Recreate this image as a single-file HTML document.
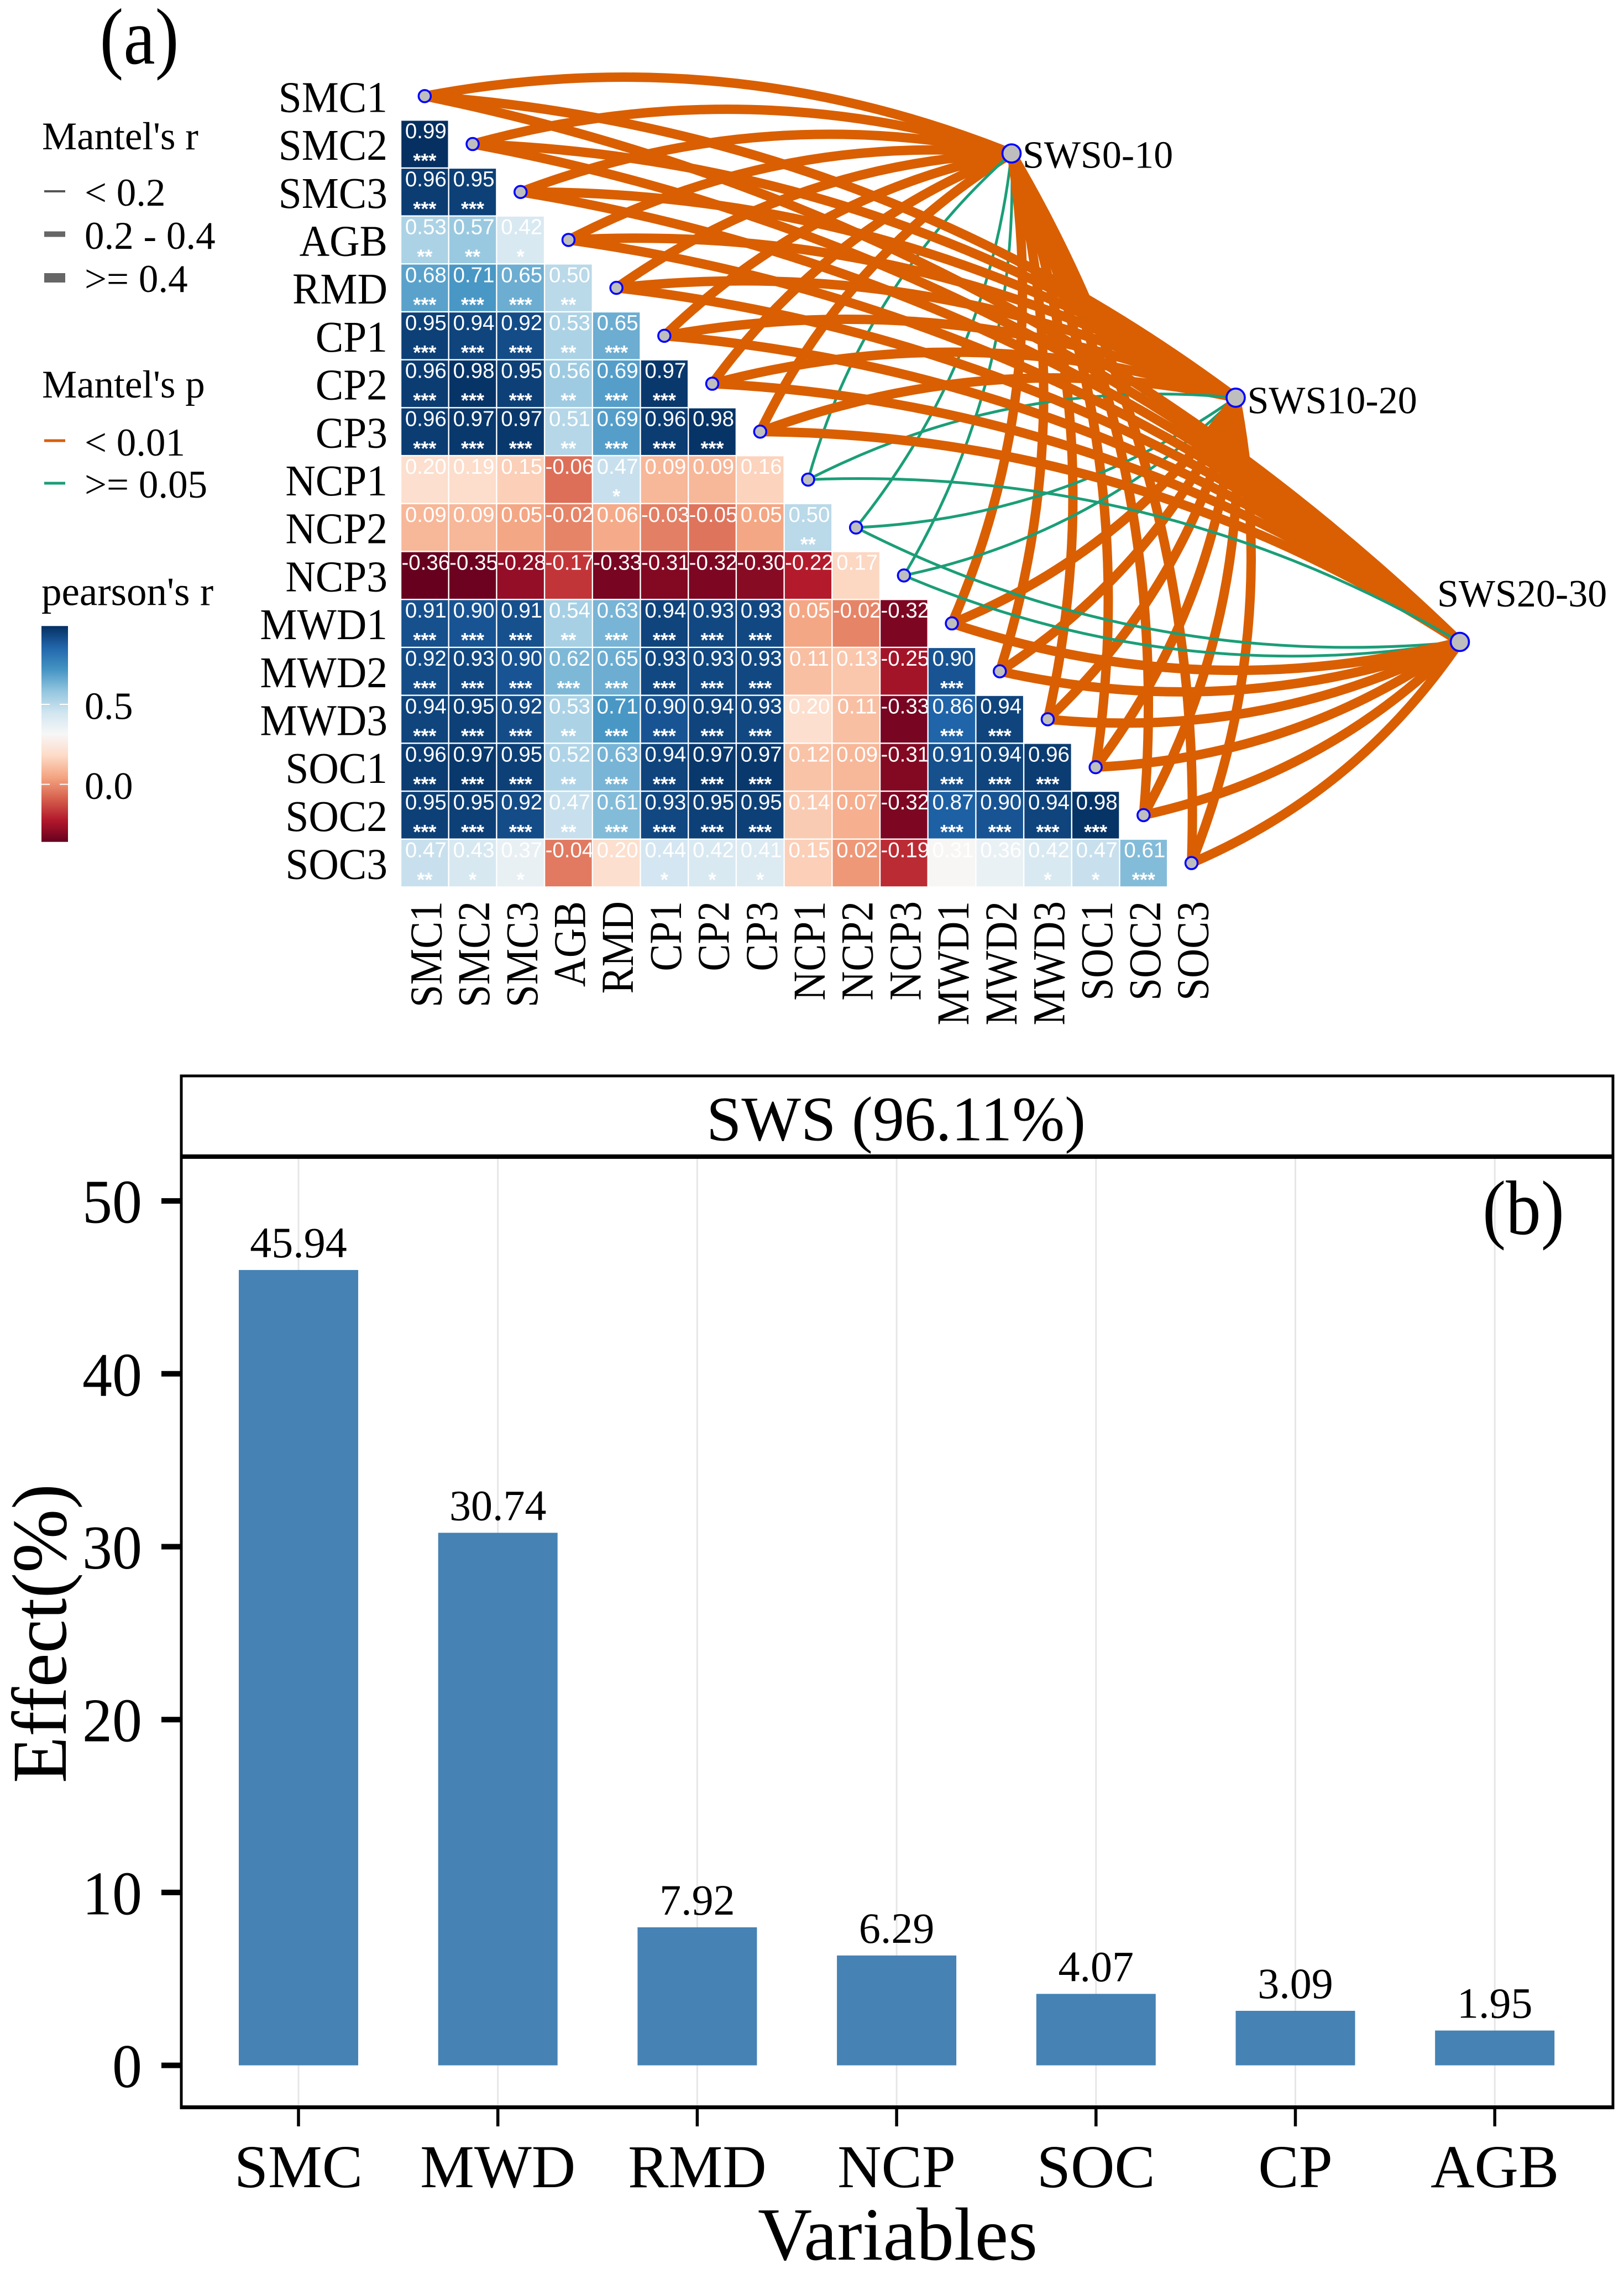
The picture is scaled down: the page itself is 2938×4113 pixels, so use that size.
<!DOCTYPE html>
<html lang="en">
<head>
<meta charset="utf-8">
<title>Mantel correlation and variable effect on SWS</title>
<style>
html,body{margin:0;padding:0;background:#fff;}
svg{display:block;}
text{font-family:"Liberation Serif",serif;fill:#000;}
.sans{font-family:"Liberation Sans",sans-serif;fill:#fff;}
</style>
</head>
<body>
<svg id="fig" xmlns="http://www.w3.org/2000/svg" width="2938" height="4113" viewBox="0 0 2938 4113">
  <rect x="0" y="0" width="2938" height="4113" fill="#ffffff"/>
  <defs><linearGradient id="cbGrad" x1="0" y1="1" x2="0" y2="0"></linearGradient></defs>

  <text transform="translate(252,115) scale(1,1.12)" font-size="129" text-anchor="middle">(a)</text>

  <g id="heatLayer"></g>
  <g id="edgeLayer"></g>
  <g id="nodeLayer"></g>

  <g>
    <text x="76" y="270" font-size="71">Mantel's r</text>
    <rect x="80" y="344" width="38" height="4" fill="#555"/>
    <text x="153" y="372" font-size="71">&lt; 0.2</text>
    <rect x="80" y="418.5" width="38" height="10" fill="#666"/>
    <text x="153" y="450" font-size="71">0.2 - 0.4</text>
    <rect x="80" y="494" width="38" height="17" fill="#666"/>
    <text x="153" y="528" font-size="71">&gt;= 0.4</text>
  </g>
  <g>
    <text x="76" y="719" font-size="71">Mantel's p</text>
    <rect x="80" y="794.5" width="38" height="5" fill="#d95f02"/>
    <text x="153" y="824" font-size="71">&lt; 0.01</text>
    <rect x="80" y="871.5" width="38" height="5" fill="#1b9e77"/>
    <text x="153" y="900" font-size="71">&gt;= 0.05</text>
  </g>
  <g id="cbLayer">
    <text x="75" y="1094.5" font-size="73">pearson's r</text>
  </g>

  <g id="barLayer"></g>

  <g>
    <line x1="325.5" y1="1946" x2="2920.5" y2="1946" stroke="#000" stroke-width="5"/>
    <line x1="325.5" y1="2092" x2="2920.5" y2="2092" stroke="#000" stroke-width="8"/>
    <line x1="328" y1="1946" x2="328" y2="3815" stroke="#000" stroke-width="5"/>
    <line x1="2918" y1="1946" x2="2918" y2="3815" stroke="#000" stroke-width="5"/>
    <line x1="325.5" y1="3811.5" x2="2920.5" y2="3811.5" stroke="#000" stroke-width="7"/>
  </g>
  <text x="1621" y="2062.5" font-size="114" text-anchor="middle">SWS (96.11%)</text>
  <text transform="translate(2756,2232) scale(1,1.1)" font-size="127" text-anchor="middle">(b)</text>
  <text transform="translate(119,2954.5) rotate(-90) scale(1,1.02)" font-size="138" text-anchor="middle">Effect(%)</text>
  <text x="1624" y="4087" font-size="136" text-anchor="middle">Variables</text>
</svg>

<script>
// ---------- Panel (a) data ----------
const variableLabels = ["SMC1","SMC2","SMC3","AGB","RMD","CP1","CP2","CP3","NCP1","NCP2","NCP3","MWD1","MWD2","MWD3","SOC1","SOC2","SOC3"];
const correlationRows = [
  [],
  [0.99],
  [0.96,0.95],
  [0.53,0.57,0.42],
  [0.68,0.71,0.65,0.50],
  [0.95,0.94,0.92,0.53,0.65],
  [0.96,0.98,0.95,0.56,0.69,0.97],
  [0.96,0.97,0.97,0.51,0.69,0.96,0.98],
  [0.20,0.19,0.15,-0.06,0.47,0.09,0.09,0.16],
  [0.09,0.09,0.05,-0.02,0.06,-0.03,-0.05,0.05,0.50],
  [-0.36,-0.35,-0.28,-0.17,-0.33,-0.31,-0.32,-0.30,-0.22,0.17],
  [0.91,0.90,0.91,0.54,0.63,0.94,0.93,0.93,0.05,-0.02,-0.32],
  [0.92,0.93,0.90,0.62,0.65,0.93,0.93,0.93,0.11,0.13,-0.25,0.90],
  [0.94,0.95,0.92,0.53,0.71,0.90,0.94,0.93,0.20,0.11,-0.33,0.86,0.94],
  [0.96,0.97,0.95,0.52,0.63,0.94,0.97,0.97,0.12,0.09,-0.31,0.91,0.94,0.96],
  [0.95,0.95,0.92,0.47,0.61,0.93,0.95,0.95,0.14,0.07,-0.32,0.87,0.90,0.94,0.98],
  [0.47,0.43,0.37,-0.04,0.20,0.44,0.42,0.41,0.15,0.02,-0.19,0.31,0.36,0.42,0.47,0.61]
];
const significanceRows = [
  [],
  [3],
  [3,3],
  [2,2,1],
  [3,3,3,2],
  [3,3,3,2,3],
  [3,3,3,2,3,3],
  [3,3,3,2,3,3,3],
  [0,0,0,0,1,0,0,0],
  [0,0,0,0,0,0,0,0,2],
  [0,0,0,0,0,0,0,0,0,0],
  [3,3,3,2,3,3,3,3,0,0,0],
  [3,3,3,3,3,3,3,3,0,0,0,3],
  [3,3,3,2,3,3,3,3,0,0,0,3,3],
  [3,3,3,2,3,3,3,3,0,0,0,3,3,3],
  [3,3,3,2,3,3,3,3,0,0,0,3,3,3,3],
  [2,1,1,0,0,1,1,1,0,0,0,0,0,1,1,3]
];
const targetLabels = ["SWS0-10","SWS10-20","SWS20-30"];
// Mantel p class per variable: 0 = "< 0.01", 1 = ">= 0.05"
const mantelPSws0to10  = [0,0,0,0,0,0,0,0,1,1,1,0,0,0,0,0,0];
const mantelPSws10to20 = [0,0,0,0,0,0,0,0,1,1,1,0,0,0,0,0,0];
const mantelPSws20to30 = [0,0,0,0,0,0,0,0,1,1,1,0,0,0,0,0,0];
// Mantel r class per variable: 0 = "< 0.2", 1 = "0.2 - 0.4", 2 = ">= 0.4"
const mantelRSws0to10  = [2,2,2,2,2,2,2,2,0,0,0,2,2,2,2,2,2];
const mantelRSws10to20 = [2,2,2,2,2,2,2,2,0,0,0,2,2,2,2,2,2];
const mantelRSws20to30 = [2,2,2,2,2,2,2,2,0,0,0,2,2,2,2,2,2];
const rdbuPalette = ["#67001f","#b2182b","#d6604d","#f4a582","#fddbc7","#f7f7f7","#d1e5f0","#92c5de","#4393c3","#2166ac","#053061"];
const colorDomain = [-0.36,0.99];
const colorbarTicks = [0,0.5];

// ---------- Panel (b) data ----------
const barCategories = ["SMC","MWD","RMD","NCP","SOC","CP","AGB"];
const barValues = [45.94,30.74,7.92,6.29,4.07,3.09,1.95];
const yTickValues = [0,10,20,30,40,50];

// ---------- Helpers ----------
const NS = "http://www.w3.org/2000/svg";
function mk(tag, parent, attrs){
  const e = document.createElementNS(NS, tag);
  for (const k in attrs) e.setAttribute(k, attrs[k]);
  parent.appendChild(e);
  return e;
}
function hexToRgb(h){return [parseInt(h.slice(1,3),16),parseInt(h.slice(3,5),16),parseInt(h.slice(5,7),16)];}
function heatColor(v){
  const t = Math.max(0,Math.min(1,(v-colorDomain[0])/(colorDomain[1]-colorDomain[0])))*(rdbuPalette.length-1);
  const i = Math.min(Math.floor(t),rdbuPalette.length-2), f = t-i;
  const a = hexToRgb(rdbuPalette[i]), b = hexToRgb(rdbuPalette[i+1]);
  return "rgb("+a.map((c,k)=>Math.round(c+(b[k]-c)*f)).join(",")+")";
}

// ---------- Scales ----------
const CELL = 86.7;
const gridX = i => 725 + CELL*i;
const gridY = i => 130.5 + CELL*i;
const nodeX = i => gridX(i) + CELL/2;
const nodeY = i => gridY(i) + CELL/2;
const targetX = i => 1830 + 405.5*i;
const targetY = i => 277.5 + 441.8*i;
const colorbarY = v => 1418.6 - 289.2*v;
const catX = i => 540 + 360.7*i;
const effY = v => 3735.6 - 31.27*v;

// ---------- Heatmap ----------
const heat = document.getElementById("heatLayer");
correlationRows.forEach((row, r) => {
  row.forEach((v, c) => {
    const cell = mk("rect", heat, {x:gridX(c)+1.2, y:gridY(r)+1.2, width:CELL-2.4, height:CELL-2.4, fill:heatColor(v)});
    
    
    const t = mk("text", heat, {class:"sans", x:gridX(c)+CELL/2+2, y:gridY(r)+33, "font-size":38.5, "text-anchor":"middle"});
    t.textContent = v.toFixed(2);
    
    
    const n = significanceRows[r][c];
    if (n > 0) {
      const s = mk("text", heat, {class:"sans", x:gridX(c)+CELL/2, y:gridY(r)+86, "font-size":36, "font-weight":"bold", "text-anchor":"middle"});
      s.textContent = "*".repeat(n);
      
      
    }
  });
});
variableLabels.forEach((lab, i) => {
  const yl = mk("text", heat, {transform:"translate(701,"+(nodeY(i)+28.5)+") scale(1,1.05)", "font-size":75.5, "text-anchor":"end"});
  yl.textContent = lab;
  
  
  const xl = mk("text", heat, {transform:"translate("+(nodeX(i)+30)+",1630) rotate(-90) scale(1,1.13)", "font-size":73.5, "text-anchor":"end"});
  xl.textContent = lab;
  
  
});

// ---------- Mantel links ----------
const edgeLayer = document.getElementById("edgeLayer");
const pColors = ["#d95f02","#1b9e77"];
const rWidths = [5,9,17];
const mantelPByTarget = [mantelPSws0to10, mantelPSws10to20, mantelPSws20to30];
const mantelRByTarget = [mantelRSws0to10, mantelRSws10to20, mantelRSws20to30];
const CURVE = 0.146;
targetLabels.forEach((name, t) => {
  variableLabels.forEach((lab, r) => {
    const x0 = nodeX(r), y0 = nodeY(r), x1 = targetX(t), y1 = targetY(t);
    const dx = x1-x0, dy = y1-y0;
    const sign = r <= 8 ? 1 : -1;
    const cx = (x0+x1)/2 + sign*CURVE*dy;
    const cy = (y0+y1)/2 - sign*CURVE*dx;
    const edge = mk("path", edgeLayer, {
      d:"M"+x0+" "+y0+" Q"+cx+" "+cy+" "+x1+" "+y1,
      fill:"none",
      stroke:pColors[mantelPByTarget[t][r]],
      "stroke-width":rWidths[mantelRByTarget[t][r]]
    });
    
    
  });
});

// ---------- Nodes ----------
const nodeLayer = document.getElementById("nodeLayer");
variableLabels.forEach((lab, i) => {
  const c = mk("circle", nodeLayer, {cx:nodeX(i), cy:nodeY(i), r:11, fill:"#bebebe", stroke:"#0000ff", "stroke-width":3.5});
  
  
});
const targetLabelDx = [20, 21, -41];
const targetLabelDy = [26, 28, -64];
targetLabels.forEach((name, t) => {
  const c = mk("circle", nodeLayer, {cx:targetX(t), cy:targetY(t), r:16.5, fill:"#bebebe", stroke:"#0000ff", "stroke-width":3.6});
  
  
  const l = mk("text", nodeLayer, {x:targetX(t)+targetLabelDx[t], y:targetY(t)+targetLabelDy[t], "font-size":70});
  l.textContent = name;
  
  
});

// ---------- Colorbar ----------
const grad = document.getElementById("cbGrad");
rdbuPalette.forEach((col, i) => {
  mk("stop", grad, {offset:(i/(rdbuPalette.length-1)), "stop-color":col});
});
const cbLayer = document.getElementById("cbLayer");
const cbTop = colorbarY(colorDomain[1]), cbBottom = colorbarY(colorDomain[0]);
const cbRect = mk("rect", cbLayer, {x:75, y:cbTop, width:48, height:cbBottom-cbTop, fill:"url(#cbGrad)"});


colorbarTicks.forEach(v => {
  const y = colorbarY(v);
  const a = mk("line", cbLayer, {x1:75, x2:90, y1:y, y2:y, stroke:"#fff", "stroke-width":2});
  
  
  const b = mk("line", cbLayer, {x1:108, x2:123, y1:y, y2:y, stroke:"#fff", "stroke-width":2});
  
  
  const l = mk("text", cbLayer, {x:153, y:y+26.5, "font-size":70});
  l.textContent = v.toFixed(1);
  
  
});

// ---------- Bar chart ----------
const barLayer = document.getElementById("barLayer");
barCategories.forEach((cat, i) => {
  const g = mk("line", barLayer, {x1:catX(i), x2:catX(i), y1:2096, y2:3808, stroke:"#e6e6e6", "stroke-width":3});
  
  
});
barValues.forEach((v, i) => {
  const top = effY(v) - 2;
  const b = mk("rect", barLayer, {x:catX(i)-108, y:top, width:216, height:effY(0)-top, fill:"#4682b4"});
  
  
  const l = mk("text", barLayer, {x:catX(i), y:effY(v)-25, "font-size":78, "text-anchor":"middle"});
  l.textContent = v.toFixed(2);
  
  
  const tick = mk("line", barLayer, {x1:catX(i), x2:catX(i), y1:3815, y2:3846, stroke:"#000", "stroke-width":5.5});
  
  
  const xl = mk("text", barLayer, {x:catX(i), y:3956, "font-size":110, "text-anchor":"middle"});
  xl.textContent = barCategories[i];
  
  
});
yTickValues.forEach(v => {
  const tick = mk("line", barLayer, {x1:292, x2:328, y1:effY(v), y2:effY(v), stroke:"#000", "stroke-width":10});
  
  
  const l = mk("text", barLayer, {transform:"translate(257,"+(effY(v)+39.5)+") scale(1,1.04)", "font-size":108, "text-anchor":"end"});
  l.textContent = String(v);
  
  
});
</script>
</body>
</html>
